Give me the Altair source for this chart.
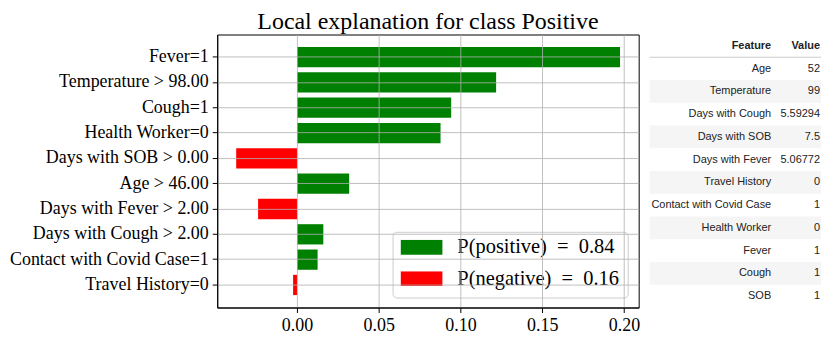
import altair as alt
import pandas as pd

SERIF = "Liberation Serif"
SANS = "Liberation Sans"

# ---- explanation bars ----
features = ["Fever=1", "Temperature > 98.00", "Cough=1", "Health Worker=0",
            "Days with SOB > 0.00", "Age > 46.00", "Days with Fever > 2.00",
            "Days with Cough > 2.00", "Contact with Covid Case=1", "Travel History=0"]
weights = [0.1976, 0.1218, 0.0943, 0.0878, -0.0372, 0.0319, -0.0238, 0.0161, 0.0126, -0.0024]
legend_labels = ["P(positive)\u2002=\u20020.84", "P(negative)\u2002=\u20020.16"]
bar_colors = ["#008000", "#ff0000"]
x_ticks = [0.0, 0.05, 0.10, 0.15, 0.20]
x_domain = [-0.0488, 0.209]
title_text = "Local explanation for class Positive"

# ---- table ----
table_header = ["Feature", "Value"]
table_features = ["Age", "Temperature", "Days with Cough", "Days with SOB", "Days with Fever",
                  "Travel History", "Contact with Covid Case", "Health Worker", "Fever", "Cough", "SOB"]
table_values = ["52", "99", "5.59294", "7.5", "5.06772", "0", "1", "0", "1", "1", "1"]

bar_df = pd.DataFrame({
    "feature": features,
    "weight": weights,
    "sign": [legend_labels[0] if w > 0 else legend_labels[1] for w in weights],
})

bars = alt.Chart(bar_df).mark_bar().encode(
    y=alt.Y("feature:N", sort=features,
            scale=alt.Scale(paddingInner=0.2, paddingOuter=0.49),
            axis=alt.Axis(title=None, bandPosition=0.5, labelFont=SERIF, labelFontSize=18,
                          labelColor="black", tickColor="black", tickSize=5, labelPadding=4,
                          grid=True, gridColor="#b0b0b0", gridOpacity=0.8, domainColor="black",
                          minExtent=203, maxExtent=203, zindex=1, labelLimit=300)),
    x=alt.X("weight:Q", stack=None, scale=alt.Scale(domain=x_domain, nice=False, zero=False),
            axis=alt.Axis(title=None, values=x_ticks, format=".2f", labelFont=SERIF, labelFontSize=18,
                          labelColor="black", tickColor="black", tickSize=5, labelPadding=4,
                          grid=True, gridColor="#b0b0b0", gridOpacity=0.8, domainColor="black",
                          zindex=1, labelFlush=False)),
    color=alt.Color("sign:N", scale=alt.Scale(domain=legend_labels, range=bar_colors),
                    legend=alt.Legend(title=None, orient="none", legendX=176, legendY=198,
                                      symbolType="M-1,-0.357L1,-0.357L1,0.357L-1,0.357Z",
                                      symbolSize=1764, symbolStrokeWidth=0, symbolOpacity=1,
                                      clipHeight=15,
                                      labelFont=SERIF, labelFontSize=20.5, labelColor="black",
                                      labelOffset=15, padding=8, rowPadding=10.5,
                                      fillColor="rgba(255,255,255,0.8)", strokeColor="#cccccc",
                                      cornerRadius=4, labelLimit=300)),
).properties(
    width=423, height=274,
    title=alt.Title(title_text, font=SERIF, fontSize=24, fontWeight="normal",
                    color="black", anchor="middle", offset=1),
    view=alt.ViewBackground(stroke="black", strokeWidth=1),
)

# table data
rows = []
rows.append({"row": 0, "col": "Feature", "text": table_header[0]})
rows.append({"row": 0, "col": "Value", "text": table_header[1]})
for i, (f, v) in enumerate(zip(table_features, table_values), start=1):
    rows.append({"row": i, "col": "Feature", "text": f})
    rows.append({"row": i, "col": "Value", "text": v})
cell_df = pd.DataFrame(rows)
row_ids = list(range(len(table_features) + 1))
stripe_df = pd.DataFrame({"row": [r for r in row_ids if r > 0 and r % 2 == 0]})
header_df = pd.DataFrame({"row": [0]})

yscale = alt.Scale(domain=row_ids, paddingInner=0, paddingOuter=0)
xscale = alt.Scale(type="point", domain=table_header, range=[122, 171], padding=0)

stripes = alt.Chart(stripe_df).mark_rect(color="#f5f5f5").encode(
    y=alt.Y("row:O", scale=yscale, axis=None)
)
rule = alt.Chart(header_df).mark_rule(color="#cccccc", strokeWidth=1).encode(
    y=alt.Y("row:O", scale=yscale, axis=None, bandPosition=1)
)
body = alt.Chart(cell_df).transform_filter("datum.row > 0").mark_text(
    align="right", baseline="middle", font=SANS, fontSize=11, color="#222222"
).encode(
    x=alt.X("col:N", scale=xscale, axis=None),
    y=alt.Y("row:O", scale=yscale, axis=None),
    text="text:N",
)
head = alt.Chart(cell_df).transform_filter("datum.row == 0").mark_text(
    align="right", baseline="middle", font=SANS, fontSize=11, fontWeight="bold", color="#222222"
).encode(
    x=alt.X("col:N", scale=xscale, axis=None),
    y=alt.Y("row:O", scale=yscale, axis=None),
    text="text:N",
)
table = alt.layer(stripes, rule, body, head).properties(
    width=172, height=274,
    view=alt.ViewBackground(stroke="transparent", strokeWidth=0),
)

chart = alt.hconcat(bars, table, spacing=11).properties(
    bounds="flush",
    padding={"left": 0, "top": 0, "right": 0, "bottom": 5},
).resolve_scale(x="independent", y="independent", color="independent").configure_view(
    stroke="transparent"
).configure(background="white")

chart.save("out.html", embed_options={"renderer": "svg", "actions": False})
